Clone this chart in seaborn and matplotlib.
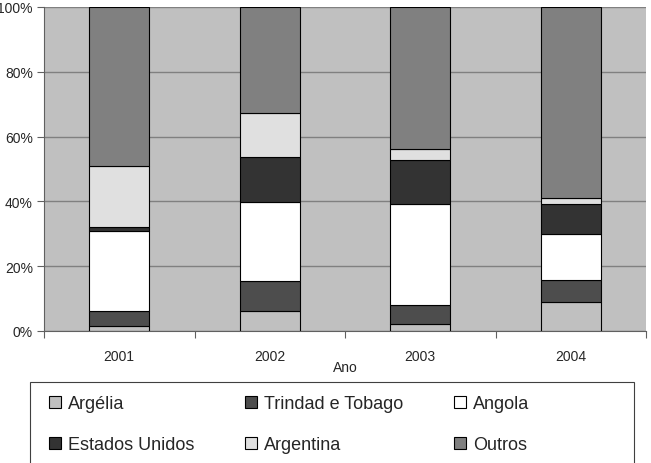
import matplotlib
matplotlib.use("Agg")
import matplotlib.pyplot as plt
from matplotlib.patches import Rectangle
import numpy as np
import pandas as pd
import seaborn as sns

years = ["2001", "2002", "2003", "2004"]
series = ["Argélia", "Trindad e Tobago", "Angola", "Estados Unidos", "Argentina", "Outros"]
argelia = [1.4, 6.1, 2.3, 9.0]
trindad = [4.7, 9.2, 5.8, 6.6]
angola = [24.7, 24.5, 31.0, 14.3]
eua = [1.4, 13.9, 13.6, 9.4]
argentina = [18.7, 13.7, 3.6, 1.9]
outros = [49.1, 32.6, 43.7, 58.8]
colors = ["#c0c0c0", "#4d4d4d", "#ffffff", "#333333", "#e0e0e0", "#808080"]

values = [argelia, trindad, angola, eua, argentina, outros]
df = pd.DataFrame({name: vals for name, vals in zip(series, values)}, index=years)
df = df.div(df.sum(axis=1), axis=0) * 100

sns.set_theme(style="white")
plt.rcParams["font.family"] = ["Liberation Sans", "DejaVu Sans"]

W, H = 651, 464
fig = plt.figure(figsize=(W / 100, H / 100), dpi=100)
ax = fig.add_axes([44 / W, (H - 332) / H, 602 / W, 324 / H])
ax.set_facecolor("#c0c0c0")

bottom = np.zeros(len(years))
for name, color in zip(series, colors):
    sns.barplot(x=years, y=df[name].values, bottom=bottom, color=color, width=0.4,
                edgecolor="black", linewidth=0.8, ax=ax, label=name, saturation=1)
    bottom = bottom + df[name].values

ax.set_ylim(0, 100)
ax.set_xlim(-0.5, 3.5)
ax.set_yticks(range(0, 101, 20))
ax.set_yticklabels([f"{v}%" for v in range(0, 101, 20)], fontsize=10)
ax.yaxis.grid(True, color="#808080", linewidth=1)
ax.set_axisbelow(True)
ax.tick_params(axis="y", length=5, width=0.8, color="#606060", pad=3, left=True)
ax.tick_params(axis="x", which="major", length=0, labelsize=10, pad=13)
ax.set_xticks(np.arange(-0.5, 4, 1), minor=True)
ax.tick_params(axis="x", which="minor", length=5, width=0.8, color="#606060", bottom=True)
ax.set_xlabel("Ano", fontsize=10, labelpad=-2)
ax.set_ylabel("")
for s in ["top", "right"]:
    ax.spines[s].set_visible(False)
for s in ["left", "bottom"]:
    ax.spines[s].set_color("#606060")
    ax.spines[s].set_linewidth(0.8)

h, l = ax.get_legend_handles_labels()
order = [0, 3, 1, 4, 2, 5]
if ax.get_legend() is not None:
    ax.get_legend().remove()
leg = fig.legend([h[i] for i in order], [l[i] for i in order], ncol=3,
                 loc="upper left", bbox_to_anchor=(49 / W, 1 - 396 / H),
                 borderaxespad=0, borderpad=0, fontsize=13, frameon=False,
                 handlelength=0.67, handleheight=0.67, handletextpad=0.4,
                 labelspacing=1.35, columnspacing=2.78)
fig.add_artist(Rectangle((30 / W, -0.02), 604 / W, (H - 383) / H + 0.02,
                         transform=fig.transFigure, fill=False, edgecolor="#404040",
                         linewidth=0.8))

fig.savefig("out.png", dpi=100)
